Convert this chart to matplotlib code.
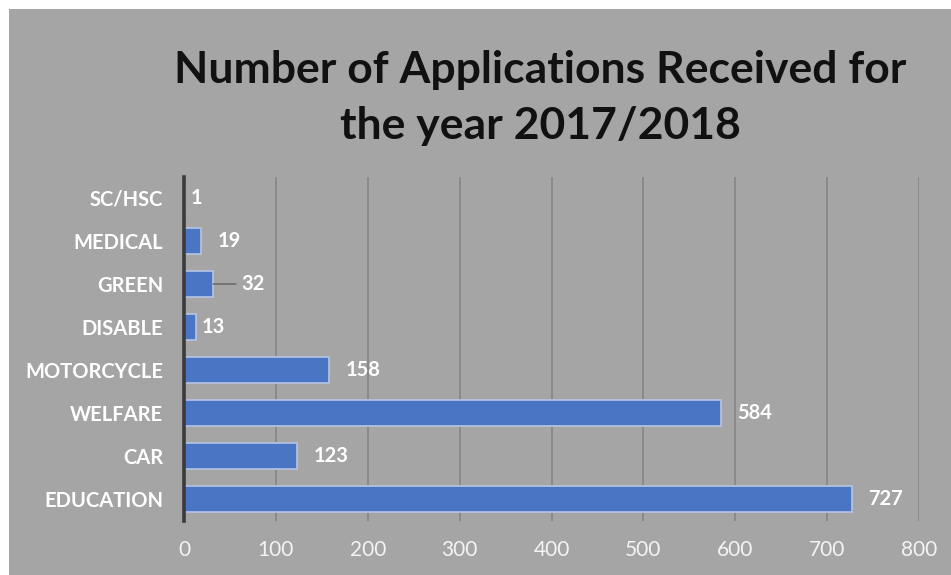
import matplotlib.pyplot as plt
import numpy as np

plt.rcParams['font.family'] = ['Lato', 'DejaVu Sans']

# Datos
categorias = ['EDUCATION', 'CAR', 'WELFARE', 'MOTORCYCLE', 'DISABLE', 'GREEN', 'MEDICAL', 'SC/HSC']
solicitudes = [727, 123, 584, 158, 13, 32, 19, 1]
ticks_x = [0, 100, 200, 300, 400, 500, 600, 700, 800]

fondo = '#a5a5a5'

fig = plt.figure(figsize=(9.51, 5.75), dpi=100, facecolor='white')
# panel gris con borde blanco arriba e izquierda
fig.patches.append(plt.Rectangle((9 / 951, 0), 1, 1 - 9 / 575, transform=fig.transFigure,
                                 facecolor=fondo, edgecolor='none', zorder=-1))

ax = fig.add_axes([184 / 951, 1 - 520.5 / 575, (919 - 184) / 951, (520.5 - 176.5) / 575])
ax.set_facecolor(fondo)

y = np.arange(len(categorias))
barras = ax.barh(y, solicitudes, height=0.6, color='#4a74c4', edgecolor='#b7c5e4',
                 linewidth=1.2, zorder=3)

ax.set_xlim(0, 800)
ax.set_ylim(-0.5, len(categorias) - 0.5)
ax.set_xticks(ticks_x)
ax.set_xticklabels([str(t) for t in ticks_x], color='#f4f4f4', fontsize=15)
ax.set_yticks(y)
ax.set_yticklabels(categorias, color='white', fontsize=14.5, fontweight='bold')
ax.tick_params(axis='both', length=0)
ax.tick_params(axis='x', pad=14)
ax.tick_params(axis='y', pad=15)

ax.grid(axis='x', color='#858585', linewidth=1.2, zorder=0)
for lado in ['top', 'right', 'bottom']:
    ax.spines[lado].set_visible(False)
ax.spines['left'].set_color('#3a3a3a')
ax.spines['left'].set_linewidth(2.6)
ax.spines['left'].set_zorder(4)

# etiquetas de valor
for i, v in enumerate(solicitudes):
    if categorias[i] == 'GREEN':
        ax.annotate(str(v), xy=(v, i), xytext=(20, 0), textcoords='offset points',
                    va='center', ha='left', color='white', fontsize=14.5, fontweight='bold',
                    arrowprops=dict(arrowstyle='-', color='#6a6a6a', lw=1.2, shrinkA=2, shrinkB=0))
    else:
        off = 4 if v < 15 else 12
        ax.annotate(str(v), xy=(v, i), xytext=(off, 0), textcoords='offset points',
                    va='center', ha='left', color='white', fontsize=14.5, fontweight='bold')

fig.text(540 / 951, 1 - 98 / 575, 'Number of Applications Received for\nthe year 2017/2018',
         ha='center', va='center', fontsize=32, fontweight='bold', color='#111111',
         linespacing=1.5)

fig.savefig('out.png', dpi=100, facecolor='white')
